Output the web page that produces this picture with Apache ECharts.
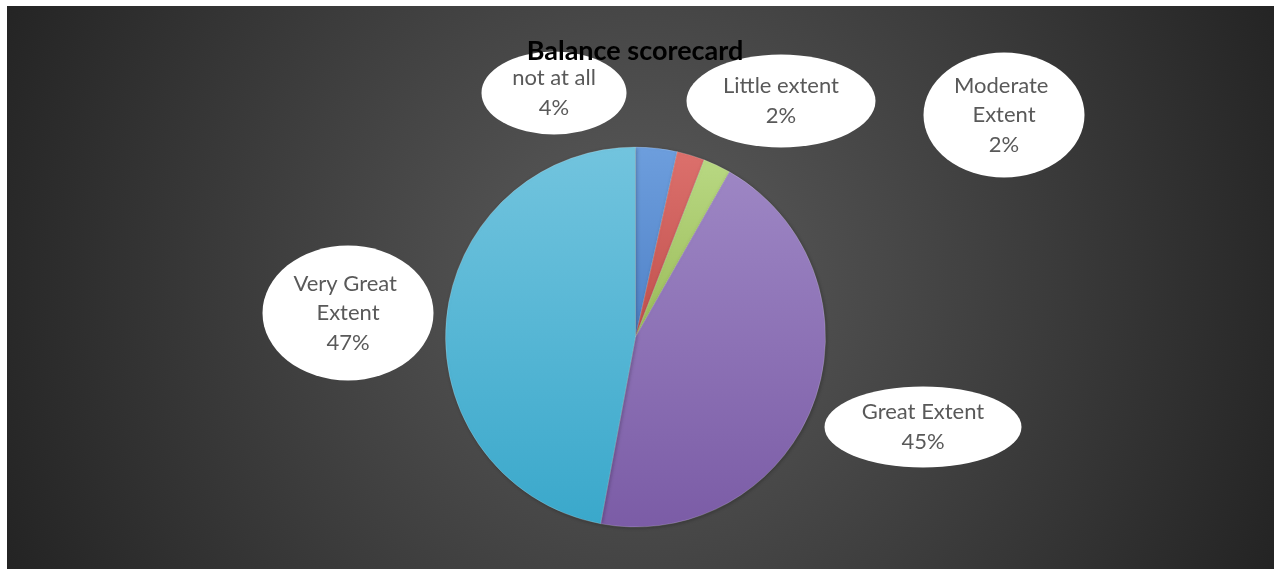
<!DOCTYPE html>
<html>
<head>
<meta charset="utf-8">
<script src="https://cdn.jsdelivr.net/npm/echarts@6/dist/echarts.min.js"></script>
<style>
  html, body { margin: 0; padding: 0; background: #fff; }
  #chart1 { position: absolute; left: 7px; top: 6px; width: 1267px; height: 563px; }
</style>
</head>
<body>
<div id="chart1"></div>
<script>
// data
var categories = ['not at all', 'Little extent', 'Moderate Extent', 'Great Extent', 'Very Great Extent'];
var counts = [3, 2, 2, 38, 40];

// slice colours (top, bottom of gradient)
var topColors = ['#6d9edd', '#dc706c', '#b8d882', '#9d86c4', '#72c4de'];
var bottomColors = ['#4f81c7', '#c0504d', '#9bbb59', '#7b5ca6', '#3aa8cb'];

// label bubbles: centre x, centre y, ellipse w, ellipse h, text width, text centre shift
var bubbles = [
  [547, 87, 146, 84, 120, 2],
  [774, 95, 190, 94, 160, 1],
  [997, 109, 162, 126, 115, -2],
  [916, 421, 198, 82, 175, -4],
  [341, 307, 172, 136, 135, 0]
];
var lineH = 29.5;

function ellipseCanvas(w, h) {
  var c = document.createElement('canvas');
  c.width = w; c.height = h;
  var ctx = c.getContext('2d');
  ctx.fillStyle = '#ffffff';
  ctx.beginPath();
  ctx.ellipse(w / 2, h / 2, w / 2 - 0.5, h / 2 - 0.5, 0, 0, Math.PI * 2);
  ctx.fill();
  return c;
}

document.addEventListener('DOMContentLoaded', function () {
  var myChart = echarts.init(document.getElementById('chart1'));

  var lines = [2, 2, 3, 2, 3];
  var data = categories.map(function (name, i) {
    var b = bubbles[i];
    var textH = lines[i] * lineH;
    var padV = (b[3] - textH) / 2;
    var padH = (b[2] - b[4]) / 2;
    return {
      name: name,
      value: counts[i],
      itemStyle: {
        color: {
          type: 'linear', x: 0, y: 0, x2: 0, y2: 1,
          colorStops: [{offset: 0, color: topColors[i]}, {offset: 1, color: bottomColors[i]}]
        }
      },
      label: {
        width: b[4],
        padding: [padV + b[5], padH, padV - b[5], padH],
        backgroundColor: {image: ellipseCanvas(b[2], b[3])}
      }
    };
  });

  var option = {
    backgroundColor: {
      type: 'radial', x: 0.5, y: 0.48, r: 1.25,
      colorStops: [
        {offset: 0, color: '#5c5c5c'},
        {offset: 1, color: '#232323'}
      ]
    },
    title: {
      text: 'Balance scorecard',
      left: 623,
      top: 27,
      textAlign: 'center',
      textStyle: {
        color: '#000',
        fontFamily: 'Lato',
        fontWeight: 'bold',
        fontSize: 27
      }
    },
    series: [
      {
        type: 'pie',
        center: [628.5, 331],
        radius: 190,
        startAngle: 90,
        clockwise: true,
        percentPrecision: 0,
        silent: true,
        itemStyle: {
          borderColor: 'rgba(255,255,255,0.2)',
          borderWidth: 0.5,
          shadowColor: 'rgba(0,0,0,0.25)',
          shadowBlur: 4,
          shadowOffsetX: 1,
          shadowOffsetY: 1
        },
        label: {
          show: true,
          formatter: '{b}\n{d}%',
          color: '#595959',
          fontFamily: 'Lato',
          fontSize: 22,
          lineHeight: lineH,
          overflow: 'break',
          align: 'center'
        },
        labelLine: { show: false },
        labelLayout: function (params) {
          var b = bubbles[params.dataIndex];
          return { x: b[0], y: b[1], align: 'center', verticalAlign: 'middle' };
        },
        data: data
      }
    ]
  };

  myChart.setOption(option);
});
</script>
</body>
</html>
